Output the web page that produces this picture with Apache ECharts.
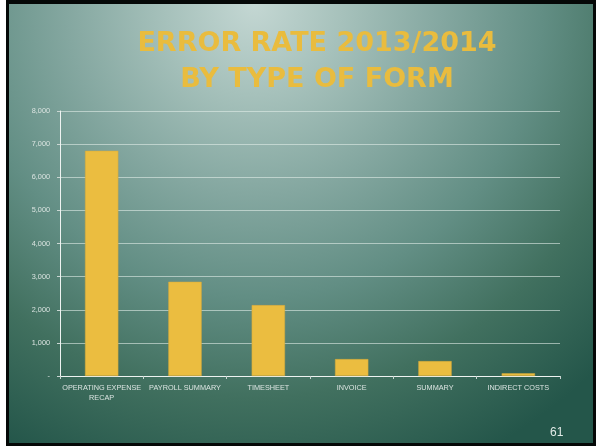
<!DOCTYPE html>
<html>
<head>
<meta charset="utf-8">
<script src="https://cdn.jsdelivr.net/npm/echarts@6/dist/echarts.min.js"></script>
<style>
  html, body { margin: 0; padding: 0; background: #ffffff; }
  #frame { position: absolute; left: 6px; top: 0; width: 590px; height: 446px; background: #050807; }
  #chart { position: absolute; left: 9px; top: 4px; width: 584px; height: 439px;
    background: radial-gradient(ellipse 85% 115% at 42% 0%, #c4d7d3 0%, #a6c1bb 18%, #84a7a0 38%, #628e84 58%, #41705f 78%, #24564a 100%); }
</style>
</head>
<body>
<div id="frame"></div>
<div id="chart"></div>
<script>
const categories = ['OPERATING EXPENSE\nRECAP', 'PAYROLL SUMMARY', 'TIMESHEET', 'INVOICE', 'SUMMARY', 'INDIRECT COSTS'];
const errorCounts = [6800, 2845, 2140, 510, 450, 80];
const titleLines = ['ERROR RATE 2013/2014', 'BY TYPE OF FORM'];
const pageNumber = '61';

const chart = echarts.init(document.getElementById('chart'), null, { renderer: 'canvas' });
const ox = 9, oy = 4;
chart.setOption({
  backgroundColor: 'transparent',
  animation: false,
  title: {
    text: titleLines.join('\n'),
    left: 312 - ox,
    top: 21 - oy,
    textAlign: 'center',
    textStyle: {
      color: '#E9BC3E',
      fontFamily: 'DejaVu Sans',
      fontWeight: 'bold',
      fontSize: 27,
      lineHeight: 36
    }
  },
  grid: { left: 60 - ox, top: 111 - oy, right: 596 - 560 - 3, bottom: 446 - 376 - 3, containLabel: false },
  xAxis: {
    type: 'category',
    data: categories,
    axisLine: { lineStyle: { color: '#eef3f1', width: 1 } },
    axisTick: { show: true, length: 3, alignWithLabel: false, lineStyle: { color: '#c9d6d2' } },
    axisLabel: { color: '#dbe4e1', fontFamily: 'Liberation Sans', fontSize: 7.3, margin: 7, interval: 0, lineHeight: 10 }
  },
  yAxis: {
    type: 'value',
    min: 0, max: 8000, interval: 1000,
    axisLine: { show: true, lineStyle: { color: '#eef3f1', width: 1 } },
    axisTick: { show: true, length: 3, lineStyle: { color: '#c9d6d2' } },
    splitLine: { lineStyle: { color: 'rgba(225,236,232,0.6)', width: 1 } },
    axisLabel: {
      color: '#dbe4e1', fontFamily: 'Liberation Sans', fontSize: 7.3, margin: 10,
      formatter: v => v === 0 ? '-' : v.toLocaleString('en-US')
    }
  },
  series: [{
    type: 'bar',
    data: errorCounts,
    barWidth: '40%',
    itemStyle: { color: '#EBBD40', borderColor: '#d4a93a', borderWidth: 0.5 }
  }],
  graphic: [{
    type: 'text',
    left: 550 - ox, top: 427 - oy,
    style: { text: pageNumber, fill: '#e3ebe8', font: '12px "Liberation Sans"' }
  }]
});
</script>
</body>
</html>
